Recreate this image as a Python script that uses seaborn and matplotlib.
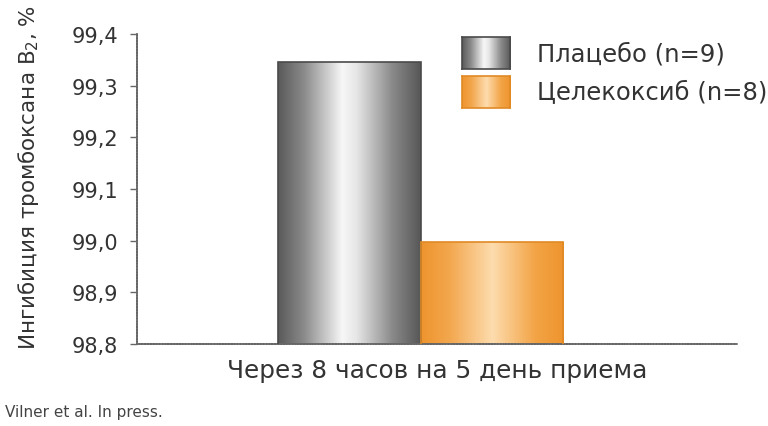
import numpy as np
import pandas as pd
import matplotlib
matplotlib.use('Agg')
import matplotlib.pyplot as plt
import seaborn as sns
from matplotlib.colors import LinearSegmentedColormap

categories = ['Через 8 часов на 5 день приема']
groups = ['Плацебо (n=9)', 'Целекоксиб (n=8)']
values = [99.345, 98.997]
y_ticks = [98.8, 98.9, 99.0, 99.1, 99.2, 99.3, 99.4]
y_tick_labels = ['98,8', '98,9', '99,0', '99,1', '99,2', '99,3', '99,4']
y_label = 'Ингибиция тромбоксана B$_2$, %'
footnote = 'Vilner et al. In press.'

sns.set_theme(style='white')
plt.rcParams['font.family'] = ['DejaVu Sans']
plt.rcParams['mathtext.fontset'] = 'dejavusans'

text_color = '#333333'
df = pd.DataFrame({'cat': categories * len(groups), 'group': groups, 'value': values})

fig = plt.figure(figsize=(7.68, 4.27), dpi=100)
ax = fig.add_axes([137 / 768, 1 - 345 / 427, 600 / 768, 310 / 427])

palette = {groups[0]: '#8a8a8a', groups[1]: '#F2A03D'}
edge_colors = ['#4a4a4a', '#E08A25']
cmaps = [
    LinearSegmentedColormap.from_list('g', [(0, '#5a5a5a'), (0.18, '#8a8a8a'), (0.45, '#f7f7f7'),
                                            (0.55, '#e6e6e6'), (0.8, '#8a8a8a'), (1, '#575757')]),
    LinearSegmentedColormap.from_list('o', [(0, '#EE942E'), (0.2, '#F3A74E'), (0.5, '#FDDCAE'),
                                            (0.8, '#F3A446'), (1, '#EE942E')]),
]

sns.barplot(data=df, x='cat', y='value', hue='group', palette=palette, ax=ax,
            width=0.8, saturation=1, errorbar=None)

ax.set_ylim(y_ticks[0], y_ticks[-1])
ax.set_xlim(-0.796, 0.888)
grad = np.linspace(0, 1, 256).reshape(1, -1)
ylim = ax.get_ylim()
for container, cmap, ec in zip(ax.containers, cmaps, edge_colors):
    for bar in container:
        x0, w, h = bar.get_x(), bar.get_width(), bar.get_height()
        im = ax.imshow(grad, extent=[x0, x0 + w, ylim[0], h], aspect='auto', cmap=cmap,
                       zorder=2, interpolation='bilinear')
        im.set_clip_path(bar)
        bar.set_facecolor('none')
        bar.set_edgecolor(ec)
        bar.set_linewidth(1.2)
        bar.set_zorder(3)
ax.set_xlim(-0.796, 0.888)
ax.set_ylim(*ylim)

ax.set_yticks(y_ticks)
ax.set_yticklabels(y_tick_labels, fontsize=15, color=text_color)
ax.tick_params(axis='y', left=True, length=5, width=1, color='#666666', pad=8.5)
ax.set_xticks([])
ax.set_xlabel(categories[0], fontsize=17.8, color=text_color, labelpad=10)
ax.set_ylabel(y_label, fontsize=15.5, color=text_color, labelpad=22)
ax.yaxis.label.set_y(0.539)
sns.despine(ax=ax)
for s in ['left', 'bottom']:
    ax.spines[s].set_color('#666666')
    ax.spines[s].set_linewidth(1.3)
    ax.spines[s].set_linestyle((0, (1, 0.6)))

leg = ax.legend(loc='upper left', bbox_to_anchor=(462 / 768, 1 - 38 / 427),
                bbox_transform=fig.transFigure, frameon=False, fontsize=17.5,
                handlelength=1.98, handleheight=1.65, handletextpad=1.1,
                labelspacing=0.27, borderpad=0, borderaxespad=0)
for t in leg.get_texts():
    t.set_color(text_color)

fig.text(5 / 768, 1 - 413 / 427, footnote, fontsize=11, color='#444444', va='center', ha='left')

fig.canvas.draw()
inv = fig.transFigure.inverted()
for handle, cmap, ec in zip(leg.legend_handles, cmaps, edge_colors):
    bb = handle.get_window_extent().transformed(inv)
    iax = fig.add_axes(bb.bounds)
    iax.imshow(grad, aspect='auto', cmap=cmap, interpolation='bilinear')
    iax.set_xticks([])
    iax.set_yticks([])
    for s in iax.spines.values():
        s.set_color(ec)
        s.set_linewidth(1.2)
        s.set_visible(True)

fig.savefig('out.png', dpi=100)
